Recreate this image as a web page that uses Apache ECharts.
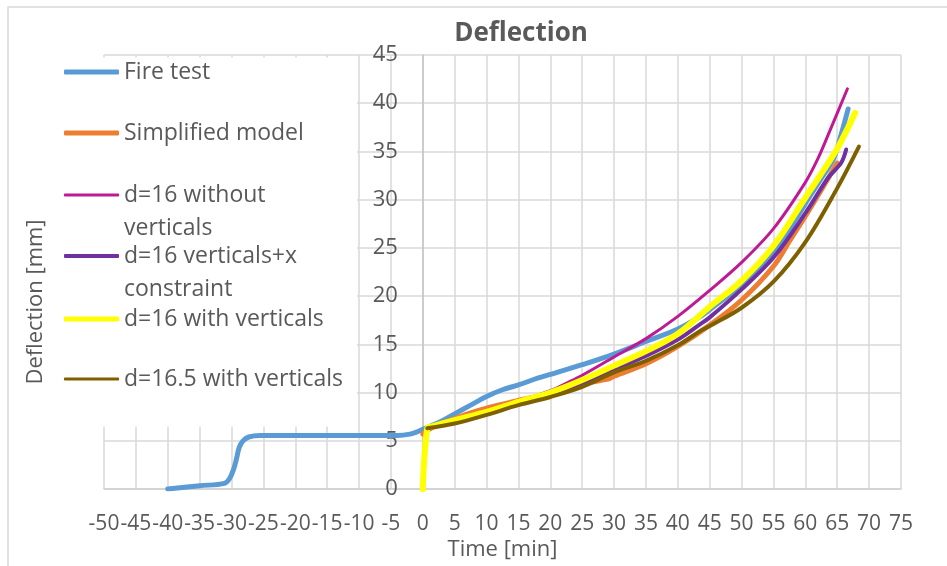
<!DOCTYPE html>
<html>
<head>
<meta charset="utf-8">
<script src="https://cdn.jsdelivr.net/npm/echarts@6/dist/echarts.min.js"></script>
<style>html,body{margin:0;padding:0;background:#fff}#c{width:947px;height:566px}</style>
</head>
<body>
<div id="c"></div>
<script>
// ---- data (time [min], deflection [mm]) ----
const fireT = [-40,-35,-31.1,-30.3,-29.6,-29.2,-28.8,-28.2,-27.3,-25.5,-20,-10,-4,-2,-1,0,2.5,5,7.5,10,12.5,15,18,20,25,30,35,40,43.3,45,50,55,57.5,60,62.5,64.4,65.5,66.7];
const fireD = [0,0.35,0.6,1.1,2.2,3.2,4.3,5.0,5.4,5.55,5.55,5.55,5.56,5.7,5.9,6.2,6.9,7.8,8.7,9.6,10.3,10.8,11.5,11.9,12.9,14.0,15.3,16.6,17.8,18.6,21.2,24.6,26.9,29.6,32.2,34.2,36.5,39.4];

const simpT = [0,0.5,2.5,5,7.5,10,12.5,15,20,25,29,30,35,40,45,50,55,57.5,60,62.5,65];
const simpD = [5.7,6.0,6.7,7.3,7.9,8.4,8.8,9.2,9.9,10.9,11.4,11.7,13.0,14.8,17.0,19.6,23.1,25.7,28.3,31.0,33.8];

const noVertT = [0.7,5,10,15,20,22.9,25,30,35,40,45,50,55,60,62,64,66.6];
const noVertD = [6.3,7.2,8.1,9.1,10.2,11.1,11.8,13.7,15.6,17.9,20.6,23.5,27.0,31.8,34.3,37.4,41.5];

const xConsT = [0.7,5,10,15,20,25,30,35,40,43.3,45,50,55,60,63.6,65.6,66.4];
const xConsD = [6.3,7.0,7.9,8.9,9.8,11.0,12.4,13.8,15.5,17.0,17.8,20.7,24.0,28.6,32.3,33.8,35.2];

const withVertT = [0,0.7,1.5,5,10,15,20,25,30,35,40,45,50,55,60,62.3,65,67.8];
const withVertD = [0,6.3,6.5,7.15,8.0,9.05,10.0,11.3,12.8,14.3,16.1,18.9,21.6,25.2,30.2,32.5,35.3,39.0];

const d165T = [0.7,5,10,15,20,25,30,35,40,43.3,45,50,55,60,65,68.4];
const d165D = [6.3,6.8,7.7,8.7,9.55,10.6,12.1,13.3,14.9,16.3,16.9,18.8,21.5,25.6,31.2,35.5];

const seriesNames = ['Fire test','Simplified model','d=16 without verticals','d=16 verticals+x constraint','d=16 with verticals','d=16.5 with verticals'];
const legendLabels = ['Fire test','Simplified model',' \nd=16 without\nverticals',' \nd=16 verticals+x\nconstraint','d=16 with verticals','d=16.5 with verticals'];
const xTicks = {min:-50, max:75, interval:5};
const yTicks = {min:0, max:45, interval:5};

// ---- styles ----
const colors = ['#5B9BD5','#ED7D31','#BE1A94','#7030A0','#FFFF00','#7F6000'];
const widths = [5,5,3,4,6,4];
const legendH = [5,5,3,4,5,3];
const legendY = [72,133,195,256,319,379];
const lineH = 33;
const font = '"Open Sans", "DejaVu Sans", sans-serif';
const txt = '#595959';
const gridL = 104, gridR = 46;
const plotW = 947 - gridL - gridR;
const zeroOffset = (0 - xTicks.min) / (xTicks.max - xTicks.min) * plotW;

const pairs = (t,d) => t.map((v,i)=>[v,d[i]]);
const dataSets = [pairs(fireT,fireD),pairs(simpT,simpD),pairs(noVertT,noVertD),pairs(xConsT,xConsD),pairs(withVertT,withVertD),pairs(d165T,d165D)];

const series = seriesNames.map((n,i)=>({
  name:n, type:'line', data:dataSets[i], showSymbol:false, symbol:'none',
  smooth:0.35,
  color:colors[i],
  lineStyle:{color:colors[i], width:widths[i], cap:'round', join:'round'},
  z: 2+i
}));

const legends = seriesNames.map((n,i)=>{
  const multi = legendLabels[i].indexOf('\n')>=0;
  const centerLine = multi ? 1.5 : 0.5;
  return {
    data:[n], orient:'vertical', left:64, top: legendY[i] - centerLine*lineH,
    padding:0, itemWidth:55, itemHeight:legendH[i], icon:'roundRect',
    formatter: ()=>legendLabels[i],
    textStyle:{fontFamily:font, fontSize:23, color:txt, lineHeight:lineH},
    selectedMode:false, z:5
  };
});

const chart = echarts.init(document.getElementById('c'), null, {renderer:'canvas'});
chart.setOption({
  animation:false,
  backgroundColor:'#fff',
  title:{text:'Deflection', left:521, top:21, padding:0, textAlign:'center',
    textStyle:{fontFamily:font, fontSize:26, fontWeight:'bold', color:txt}},
  grid:{left:gridL, right:gridR, top:55, bottom:75, containLabel:false},
  xAxis:{type:'value', min:xTicks.min, max:xTicks.max, interval:xTicks.interval,
    name:'Time [min]', nameLocation:'middle', nameGap:47,
    nameTextStyle:{fontFamily:font, fontSize:22, color:txt},
    axisLine:{show:true, onZero:false, lineStyle:{color:'#d0d0d0', width:1.5}},
    axisTick:{show:false},
    axisLabel:{fontFamily:font, fontSize:21, color:txt, margin:24, showMinLabel:true, showMaxLabel:true, hideOverlap:false},
    splitLine:{show:true, lineStyle:{color:'#d9d9d9', width:1.5}}},
  yAxis:{type:'value', min:yTicks.min, max:yTicks.max, interval:yTicks.interval,
    position:'left', offset:-zeroOffset,
    axisLine:{show:true, onZero:false, lineStyle:{color:'#c4c4c4', width:1.5}},
    axisTick:{show:false},
    axisLabel:{fontFamily:font, fontSize:22, color:txt, margin:25},
    splitLine:{show:true, lineStyle:{color:'#d9d9d9', width:1.5}}},
  legend: legends,
  graphic:[
    {type:'rect', z:-1, shape:{x:8, y:7, width:1000, height:700}, style:{fill:'none', stroke:'#d9d9d9', lineWidth:1.5}, silent:true},
    {type:'rect', z:1, shape:{x:58, y:57.5, width:299, height:369}, style:{fill:'#fff'}, silent:true},
    {type:'text', z:3, x:36, y:302, rotation:Math.PI/2,
      style:{text:'Deflection [mm]', font:'22px "Open Sans", sans-serif', fill:txt, align:'center', verticalAlign:'middle'}}
  ],
  series: series
});
</script>
</body>
</html>
